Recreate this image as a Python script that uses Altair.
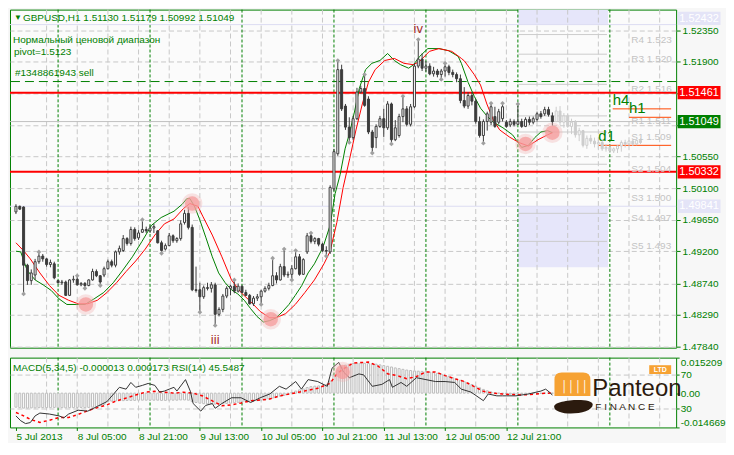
import json
import pandas as pd
import altair as alt

FONT = "Liberation Sans, Arial, sans-serif"
SANS = FONT
GREEN = "#008000"
W = 668
H_MAIN = 339
H_SUB = 70

x_domain = [-0.25, 171]
price_domain = [1.47824, 1.52646]
macd_domain = [-0.014669, 0.015209]
rsi_domain = [7.1, 90.6]

# ---------------- candles (GBPUSD H1), bars 0..140 ----------------
opens = [1.4976,1.4984,1.4983,1.4900,1.4878,1.4886,1.4905,1.4913,1.4909,1.4901,
         1.4902,1.4878,1.4875,1.4876,1.4857,1.4879,1.4880,1.4872,1.4874,1.4871,
         1.4879,1.4891,1.4885,1.4886,1.4895,1.4905,1.4900,1.4919,1.4921,1.4938,
         1.4931,1.4951,1.4939,1.4947,1.4951,1.4949,1.4953,1.4949,1.4932,1.4923,
         1.4928,1.4942,1.4935,1.4938,1.4961,1.4974,1.4954,1.4865,1.4865,1.4855,
         1.4868,1.4867,1.4872,1.4830,1.4837,1.4856,1.4867,1.4870,1.4863,1.4870,
         1.4861,1.4857,1.4845,1.4853,1.4855,1.4863,1.4867,1.4871,1.4885,1.4879,
         1.4898,1.4886,1.4887,1.4895,1.4912,1.4887,1.4919,1.4942,1.4934,1.4938,
         1.4930,1.4921,1.4919,1.5009,1.5059,1.5179,1.5127,1.5097,1.5082,1.5109,
         1.5147,1.5152,1.5137,1.5090,1.5082,1.5098,1.5109,1.5096,1.5130,1.5079,
         1.5085,1.5112,1.5123,1.5101,1.5126,1.5184,1.5194,1.5181,1.5184,1.5173,
         1.5177,1.5172,1.5177,1.5183,1.5175,1.5172,1.5166,1.5135,1.5127,1.5142,
         1.5134,1.5105,1.5085,1.5105,1.5104,1.5112,1.5104,1.5109,1.5104,1.5100,
         1.5105,1.5101,1.5105,1.5098,1.5108,1.5104,1.5108,1.5116,1.5116,1.5122,
         1.51130]
highs = [1.4987,1.4985,1.4984,1.4902,1.4894,1.4909,1.4919,1.4916,1.4910,1.4908,
         1.4905,1.4879,1.4879,1.4878,1.4880,1.4885,1.4885,1.4876,1.4876,1.4880,
         1.4895,1.4894,1.4886,1.4898,1.4908,1.4908,1.4921,1.4928,1.4943,1.4940,
         1.4955,1.4954,1.4950,1.4965,1.4955,1.4957,1.4959,1.4950,1.4935,1.4931,
         1.4946,1.4944,1.4940,1.4964,1.4979,1.4983,1.4958,1.4898,1.4875,1.4871,
         1.4875,1.4876,1.4875,1.4840,1.4859,1.4870,1.4872,1.4879,1.4874,1.4871,
         1.4865,1.4859,1.4856,1.4859,1.4865,1.4870,1.4875,1.4910,1.4890,1.4902,
         1.4923,1.4891,1.4900,1.4921,1.4916,1.4910,1.4946,1.4946,1.4940,1.4939,
         1.4932,1.4927,1.5014,1.5066,1.5192,1.5186,1.5130,1.5111,1.5113,1.5153,
         1.5156,1.5172,1.5141,1.5093,1.5101,1.5113,1.5123,1.5134,1.5132,1.5107,
         1.5116,1.5141,1.5127,1.5130,1.5188,1.5222,1.5202,1.5191,1.5188,1.5183,
         1.5180,1.5180,1.5188,1.5186,1.5179,1.5175,1.5172,1.5154,1.5147,1.5147,
         1.5137,1.5112,1.5108,1.5119,1.5131,1.5126,1.5123,1.5131,1.5107,1.5109,
         1.5108,1.5130,1.5109,1.5111,1.5112,1.5112,1.5119,1.5120,1.5126,1.5126,
         1.51179]
lows = [1.4973,1.4979,1.4859,1.4872,1.4872,1.4879,1.4902,1.4905,1.4898,1.4897,
        1.4880,1.4874,1.4872,1.4856,1.4856,1.4875,1.4871,1.4870,1.4867,1.4870,
        1.4878,1.4883,1.4871,1.4883,1.4894,1.4897,1.4897,1.4915,1.4919,1.4928,
        1.4928,1.4935,1.4936,1.4946,1.4946,1.4946,1.4946,1.4931,1.4917,1.4921,
        1.4927,1.4932,1.4932,1.4935,1.4958,1.4951,1.4863,1.4861,1.4833,1.4852,
        1.4864,1.4861,1.4814,1.4827,1.4833,1.4853,1.4857,1.4860,1.4861,1.4860,
        1.4856,1.4844,1.4842,1.4849,1.4844,1.4861,1.4864,1.4870,1.4874,1.4878,
        1.4883,1.4882,1.4879,1.4894,1.4885,1.4886,1.4916,1.4931,1.4930,1.4927,
        1.4919,1.4913,1.4916,1.5006,1.5056,1.5120,1.5093,1.5075,1.5079,1.5107,
        1.5145,1.5126,1.5087,1.5060,1.5067,1.5096,1.5083,1.5093,1.5073,1.5077,
        1.5082,1.5104,1.5098,1.5098,1.5124,1.5181,1.5177,1.5176,1.5171,1.5169,
        1.5168,1.5165,1.5169,1.5171,1.5168,1.5161,1.5131,1.5124,1.5123,1.5128,
        1.5102,1.5082,1.5074,1.5092,1.5100,1.5096,1.5101,1.5105,1.5096,1.5097,
        1.5098,1.5100,1.5096,1.5097,1.5100,1.5101,1.5105,1.5109,1.5113,1.5112,
        1.50992]
closes = [1.4984,1.4980,1.4900,1.4878,1.4889,1.4905,1.4913,1.4909,1.4901,1.4904,
          1.4882,1.4875,1.4876,1.4857,1.4879,1.4880,1.4872,1.4874,1.4871,1.4879,
          1.4891,1.4885,1.4876,1.4895,1.4905,1.4900,1.4919,1.4924,1.4938,1.4931,
          1.4951,1.4938,1.4946,1.4951,1.4949,1.4953,1.4955,1.4932,1.4921,1.4928,
          1.4942,1.4935,1.4938,1.4959,1.4974,1.4954,1.4865,1.4864,1.4855,1.4868,
          1.4867,1.4872,1.4830,1.4837,1.4856,1.4867,1.4870,1.4863,1.4870,1.4861,
          1.4857,1.4845,1.4853,1.4855,1.4863,1.4867,1.4871,1.4885,1.4879,1.4898,
          1.4886,1.4887,1.4895,1.4912,1.4887,1.4908,1.4942,1.4934,1.4938,1.4930,
          1.4921,1.4920,1.5011,1.5062,1.5179,1.5123,1.5097,1.5082,1.5109,1.5147,
          1.5152,1.5128,1.5090,1.5068,1.5098,1.5109,1.5096,1.5130,1.5079,1.5096,
          1.5112,1.5123,1.5101,1.5126,1.5184,1.5194,1.5181,1.5184,1.5173,1.5177,
          1.5172,1.5177,1.5183,1.5175,1.5172,1.5166,1.5135,1.5127,1.5142,1.5134,
          1.5105,1.5085,1.5105,1.5116,1.5126,1.5098,1.5119,1.5126,1.5098,1.5105,
          1.5101,1.5105,1.5098,1.5108,1.5104,1.5109,1.5116,1.5112,1.5122,1.5115,
          1.51049]

# faded projection candles, bars 141..163
g_open = [1.5105,1.5120,1.5104,1.5113,1.5098,1.5104,1.5086,1.5092,1.5071,1.5081,1.5077,1.5073,
          1.5075,1.5066,1.5068,1.5063,1.5066,1.5070,1.5075,1.5073,1.5077,1.5073,1.5078]
g_high = [1.5126,1.5127,1.5117,1.5116,1.5109,1.5107,1.5096,1.5093,1.5085,1.5086,1.5082,1.5079,
          1.5079,1.5073,1.5071,1.5068,1.5071,1.5078,1.5079,1.5078,1.5079,1.5079,1.5081]
g_low = [1.5104,1.5100,1.5096,1.5096,1.5087,1.5082,1.5077,1.5068,1.5066,1.5073,1.5068,1.5066,
         1.5063,1.5062,1.5060,1.5060,1.5060,1.5062,1.5068,1.5070,1.5070,1.5071,1.5073]
g_close = [1.5120,1.5104,1.5113,1.5098,1.5104,1.5086,1.5092,1.5071,1.5081,1.5077,1.5073,1.5075,
           1.5066,1.5068,1.5063,1.5066,1.5070,1.5075,1.5073,1.5077,1.5073,1.5078,1.5075]

# moving averages
fast_bars = [0,1.25,2.9,5,7.1,9.2,11.25,13.3,16.25,18,20.4,22.9,25.4,27.9,30.4,32.9,35.4,37.9,41.25,43.4,
             44.6,45.4,46.6,47.9,49.6,51.25,52.9,54.6,56.25,57.9,59.6,61.25,62.9,64.6,66.25,67.9,69.6,71.25,72.9,74.6,
             76.25,77.9,79.6,80.4,82,83.3,84.6,85.9,87.1,88.4,89.6,91.25,92.9,95,97,98.75,100.4,102.5,103.75,105.4,
             107.5,110.4,112.9,115.4,116.25,118,119.6,121.25,122.9,124.6,127.1,129.6,132,133.75,135.4,137,138.75,140]
fast_vals = [1.4920,1.4919,1.4893,1.4879,1.4872,1.4864,1.4852,1.4844,1.4844,1.4844,1.4852,1.4861,1.4875,1.4893,1.4912,
             1.4934,1.4957,1.4968,1.4977,1.4987,1.4995,1.4995,1.4984,1.4966,1.4939,1.4912,1.4889,1.4875,1.4865,1.4859,
             1.4850,1.4838,1.4827,1.4819,1.4821,1.4825,1.4834,1.4844,1.4857,1.4871,1.4889,1.4902,1.4920,1.4930,1.4957,
             1.5002,1.5029,1.5066,1.5089,1.5120,1.5152,1.5179,1.5188,1.5192,1.5202,1.5192,1.5186,1.5181,1.5186,1.5198,
             1.5209,1.5209,1.5206,1.5198,1.5188,1.5161,1.5141,1.5124,1.5113,1.5104,1.5096,1.5086,1.5068,1.5071,1.5082,
             1.5090,1.5092,1.5089]
slow_bars = [0,2.1,3.75,6.25,8.75,11.25,13.75,16.25,18.75,21.25,23.75,26.25,28.75,31.25,33.75,36.25,38.75,41.25,43.75,45.4,
             47.5,48.75,51.25,53.75,56.25,58.75,61.25,63.75,66.25,67.9,70.4,72.9,75.4,77.9,80.4,82,83.75,85.4,87.1,88.75,
             90.4,92,93.75,96.25,98.75,101.25,103.75,105.4,107.9,110.4,113.75,116.25,117.1,119.6,121.25,122.9,124.6,126.25,
             128.75,131.25,133.75,136.25,138.75,140]
slow_vals = [1.4932,1.4920,1.4909,1.4889,1.4871,1.4857,1.4850,1.4845,1.4845,1.4850,1.4861,1.4875,1.4891,1.4906,1.4923,
             1.4943,1.4959,1.4966,1.4981,1.4988,1.4984,1.4970,1.4943,1.4912,1.4879,1.4861,1.4848,1.4834,1.4825,1.4825,
             1.4831,1.4844,1.4861,1.4879,1.4902,1.4920,1.4961,1.5011,1.5052,1.5093,1.5130,1.5161,1.5179,1.5192,1.5195,
             1.5188,1.5186,1.5191,1.5205,1.5209,1.5205,1.5195,1.5191,1.5172,1.5157,1.5130,1.5107,1.5093,1.5083,1.5075,
             1.5070,1.5079,1.5086,1.5089]

fractal_up = [6,16,33,57,67,70,73,77,84,91,101,105,112,124,127,131]
fractal_dn = [2,18,22,38,48,52,64,72,81,87,93,98,111,122]

circle_bars = [18.25, 46, 66.5, 133, 140]
circle_prices = [1.4844, 1.4988, 1.4823, 1.5073, 1.5089]

# levels
red_levels = [1.51461, 1.50332]
order_level = [1.5162]
bid_level = [1.51049]
lav_levels = [1.52432, 1.49841]
zone_b0 = [131, 131]
zone_b1 = [154.5, 154.5]
zone_lo = [1.52432, 1.4897]
zone_hi = [1.52646, 1.49841]
pivot_names = ["R4", "R3", "R2", "R1", "S1", "S2", "S3", "S4", "S5"]
pivot_prices = [1.5229, 1.5201, 1.5158, 1.5113, 1.5090, 1.5044, 1.5003, 1.4974, 1.4934]
tf_names = ["h4", "h1", "d1"]
tf_start = [155.75, 160, 152]
tf_prices = [1.5123, 1.5111, 1.5071]
box_prices = [1.49841, 1.51461, 1.50332, 1.51049]
box_fills = ["#e4e4f7", "#ff0000", "#ff0000", "#008000"]
top_box_price = [1.52432]
top_box_fill = ["#e4e4f7"]

price_ticks = [1.5235, 1.519, 1.5145, 1.51, 1.5055, 1.501, 1.4965, 1.492, 1.4874, 1.4829, 1.4784]
hidden_ticks = [1.5145, 1.51]

grid_bars = [8, 16, 24, 32, 40, 48, 56, 64, 72, 80, 88, 96, 104, 112, 120, 128, 136, 144, 152, 160, 168]
day_bars = [11, 35, 59, 83, 107, 131, 155]
x_label_bars = [0, 16, 32, 48, 64, 80, 96, 112, 128]
x_label_text = ["5 Jul 2013", "8 Jul 05:00", "8 Jul 21:00", "9 Jul 13:00", "10 Jul 05:00",
                "10 Jul 21:00", "11 Jul 13:00", "12 Jul 05:00", "12 Jul 21:00"]

# indicator window
macd_hist = [-0.0060,-0.0062,-0.0064,-0.0064,-0.0063,-0.0063,-0.0062,-0.0062,-0.0062,-0.0062,-0.0061,-0.0062,
             -0.0062,-0.0063,-0.0062,-0.0062,-0.0061,-0.0061,-0.0062,-0.0061,-0.0060,-0.0058,-0.0054,-0.0048,
             -0.0036,-0.0034,-0.0033,-0.0032,-0.0032,-0.0031,-0.0031,-0.0031,-0.0030,-0.0030,-0.0030,-0.0030,
             -0.0030,-0.0030,-0.0031,-0.0031,-0.0030,-0.0030,-0.0030,-0.0029,-0.0029,-0.0030,
             -0.0036,-0.0040,-0.0043,-0.0045,-0.0046,-0.0046,-0.0047,-0.0046,-0.0045,-0.0044,-0.0043,-0.0041,-0.0039,
             -0.0037,-0.0035,-0.0034,-0.0033,-0.0032,-0.0030,-0.0028,-0.0025,-0.0021,-0.0017,-0.0013,-0.0009,
             -0.0005,0.0003,0.0009,0.0014,0.0018,0.0024,0.0028,0.0030,0.0031,0.0032,
             0.0036,0.0052,0.0074,0.0098,0.0112,0.0120,0.0124,0.0127,0.0128,0.0129,0.0128,0.0127,
             0.0126,0.0124,0.0121,0.0118,0.0115,0.0112,0.0108,0.0105,0.0102,0.0099,0.0097,0.0095,0.0094,0.0093,
             0.0092,0.0090,0.0088,0.0085,0.0081,0.0076,
             0.0071,0.0066,0.0061,0.0055,0.0049,0.0043,0.0037,0.0030,0.0023,0.0016,0.0010,
             0.0005,0.0002,0.0000,-0.0002,-0.0003,-0.0004,-0.0004,-0.0004,-0.0003,-0.0003,-0.0002,-0.0002,
             -0.0001,-0.0001,0.0000,0.0000,-0.000013]
signal_bars = [0,1.25,3.75,6.25,8.75,11.25,13.75,16.25,18.75,21.25,23.75,26.25,28.75,31.25,33.75,36.25,38.75,41.25,
               43.75,46.25,48.75,51.25,53.75,56.25,58.75,61.25,63.75,66.25,68.75,73.75,78.75,82,83.75,85.5,88,92,
               94.5,97,99.5,102,104.5,107,109.5,112,114.5,117,119.5,122,124.5,127,132,135.5,138.75,140]
signal_vals = [-0.0083,-0.0091,-0.0112,-0.0125,-0.0116,-0.0104,-0.0104,-0.0091,-0.0075,-0.0062,-0.0050,-0.0033,
               -0.0021,-0.0008,0.0004,0.0008,0.0004,0.0000,0.0004,0.0000,-0.0012,-0.0033,-0.0054,-0.0050,-0.0042,
               -0.0033,-0.0029,-0.0025,-0.0012,0.0004,0.0021,0.0042,0.0083,0.0104,0.0129,0.0133,0.0116,0.0083,
               0.0075,0.0062,0.0071,0.0091,0.0091,0.0075,0.0062,0.0050,0.0029,0.0008,0.0000,-0.0004,-0.0008,
               -0.0004,0.0000,0.000173]
rsi_bars = [0,1.25,2.5,3.75,5,6.25,8.75,11.25,12.5,13.75,16.25,18.75,21.25,23.75,25.5,27,28.75,30,31.25,33,
            34.5,36.25,37.5,38.75,40,41.25,42,44.25,45.5,46.25,48.25,49.5,51.25,52,53.75,56.25,58.75,61.25,63.75,
            66.25,68.75,70.5,73,74.5,76.25,78.75,81.25,82.5,84.25,85.5,87,89.5,90.75,93,95.5,97.5,98.25,100.5,102,
            104.5,107,109.5,112,114.5,116.25,118.75,122,123.25,125.5,127,130.5,133.75,137,138.25,139.5,140]
rsi_vals = [20.9,15.1,11.7,12.9,20.9,24.3,23.1,20.9,18.6,23.1,27.7,26.6,32.3,38.0,47.1,55.1,52.9,60.9,55.1,57.4,
            59.7,57.4,49.4,50.6,52.9,55.1,50.6,64.3,50.6,35.7,26.6,33.4,35.7,30.0,35.7,42.6,42.6,36.9,42.6,47.1,
            56.3,52.9,62.0,52.9,64.3,62.0,56.3,78.0,84.9,73.4,66.6,71.1,70.0,56.3,58.6,64.3,55.1,60.9,56.3,66.6,
            64.3,62.0,62.0,60.9,52.9,49.4,39.1,47.1,44.9,44.9,44.9,47.1,50.6,52.9,48.3,45.5487]
rsi_circle_bar = [85.25]
rsi_circle_val = [73.4]

# ---------------- tables ----------------
rows = []
for i, (o, h, l, c) in enumerate(zip(opens, highs, lows, closes)):
    rows.append(dict(bar=i, open=o, high=h, low=l, close=c, kind="bull" if c >= o else "bear"))
for j, (o, h, l, c) in enumerate(zip(g_open, g_high, g_low, g_close)):
    rows.append(dict(bar=len(opens) + j, open=o, high=h, low=l, close=c, kind="gbull" if c >= o else "gbear"))
candles = pd.DataFrame(rows)

frac = pd.DataFrame(
    [dict(bar=b, price=highs[b]) for b in fractal_up] + [dict(bar=b, price=lows[b]) for b in fractal_dn])

xs = alt.Scale(domain=x_domain, nice=False, zero=False)
ys = alt.Scale(domain=price_domain, nice=False, zero=False)
ms = alt.Scale(domain=macd_domain, nice=False, zero=False)
rs = alt.Scale(domain=rsi_domain, nice=False, zero=False)

hidden_js = json.dumps(hidden_ticks)
yaxis = alt.Axis(orient="right", values=price_ticks, title=None, domain=False,
                 labelExpr=f"indexof({hidden_js}, datum.value) >= 0 ? '' : format(datum.value, '.5f')",
                 grid=True, gridColor="#c8c8c8", gridDash=[5, 3], tickSize=4, labelPadding=2, labelFontSize=10)


def X(f="bar"):
    return alt.X(f"{f}:Q", scale=xs, axis=None)


def Y(f):
    return alt.Y(f"{f}:Q", scale=ys, axis=yaxis)


def note(text, x, y, **kw):
    kw.setdefault("font", FONT)
    kw.setdefault("fontSize", 10)
    kw.setdefault("color", GREEN)
    kw.setdefault("align", "left")
    kw.setdefault("baseline", "middle")
    return alt.Chart(pd.DataFrame({"t": [text]})).mark_text(**kw).encode(
        text="t:N", x=alt.value(x), y=alt.value(y))


zones = alt.Chart(pd.DataFrame({"b0": zone_b0, "b1": zone_b1, "p0": zone_lo, "p1": zone_hi})).mark_rect(
    color="#e6e6fa", clip=True).encode(x=X("b0"), x2="b1:Q", y=Y("p0"), y2="p1:Q")
vgrid = alt.Chart(pd.DataFrame({"bar": grid_bars})).mark_rule(
    color="#c8c8c8", strokeDash=[5, 3], strokeWidth=1).encode(x=X())
days = alt.Chart(pd.DataFrame({"bar": day_bars})).mark_rule(
    color=GREEN, strokeDash=[3, 2], strokeWidth=1).encode(x=X())
lav_lines = alt.Chart(pd.DataFrame({"p": lav_levels})).mark_rule(color="#dcdcf2", strokeWidth=1).encode(y=Y("p"))
bid_line = alt.Chart(pd.DataFrame({"p": bid_level})).mark_rule(color="#c0c0c0", strokeWidth=1).encode(y=Y("p"))
order_line = alt.Chart(pd.DataFrame({"p": order_level})).mark_rule(
    color=GREEN, strokeDash=[9, 5], strokeWidth=1).encode(y=Y("p"))
red_lines = alt.Chart(pd.DataFrame({"p": red_levels})).mark_rule(color="#ff0000", strokeWidth=2).encode(y=Y("p"))

piv_df = pd.DataFrame({"name": pivot_names, "p": pivot_prices})
piv_df["label"] = [f"{n} {p:.3f}" for n, p in zip(pivot_names, pivot_prices)]
piv_df["b0"] = 131
piv_df["b1"] = 154.25
piv_df["bl"] = 160.6
piv_lines = alt.Chart(piv_df).mark_rule(color="#cccccc", strokeWidth=1).encode(x=X("b0"), x2="b1:Q", y=Y("p"))
piv_text = alt.Chart(piv_df).mark_text(color="#c4c4c4", font=FONT, fontSize=10, align="left",
                                       baseline="middle", dy=5).encode(
    x=X("bl"), y=Y("p"), text="label:N")

tf_df = pd.DataFrame({"name": tf_names, "b0": tf_start, "p": tf_prices})
tf_df["b1"] = x_domain[1]
tf_lines = alt.Chart(tf_df).mark_rule(color="#ff4500", strokeWidth=1).encode(x=X("b0"), x2="b1:Q", y=Y("p"))
tf_text = alt.Chart(tf_df).mark_text(color=GREEN, font=SANS, fontSize=15,
                                     align="left", baseline="bottom", dy=-1).encode(
    x=X("b0"), y=Y("p"), text="name:N")

fast = alt.Chart(pd.DataFrame({"bar": fast_bars, "v": fast_vals})).mark_line(
    color=GREEN, strokeWidth=1).encode(x=X(), y=Y("v"))
slow = alt.Chart(pd.DataFrame({"bar": slow_bars, "v": slow_vals})).mark_line(
    color="#ff0000", strokeWidth=1).encode(x=X(), y=Y("v"))

kinds = ["bull", "bear", "gbull", "gbear"]
wicks = alt.Chart(candles).mark_rule(strokeWidth=1).encode(
    x=X(), y=Y("low"), y2="high:Q",
    color=alt.Color("kind:N", scale=alt.Scale(domain=kinds, range=["#3c3c3c", "#3c3c3c", "#cdcdcd", "#cdcdcd"]),
                    legend=None))
bodies = alt.Chart(candles).mark_bar(width=2, strokeWidth=1).encode(
    x=X(), y=Y("open"), y2="close:Q",
    fill=alt.Fill("kind:N", scale=alt.Scale(domain=kinds, range=["#ffffff", "#3c3c3c", "#ffffff", "#cdcdcd"]),
                  legend=None),
    stroke=alt.Stroke("kind:N", scale=alt.Scale(domain=kinds, range=["#3c3c3c", "#3c3c3c", "#cdcdcd", "#cdcdcd"]),
                      legend=None))

fractals = alt.Chart(frac).mark_point(shape="diamond", filled=True, color="#a0a0a0", size=22, opacity=1).encode(
    x=X(), y=Y("price"))

circ_df = pd.DataFrame({"bar": circle_bars, "p": circle_prices})
halo = alt.Chart(circ_df).mark_circle(color="#f2b3b3", size=420, opacity=0.35).encode(x=X(), y=Y("p"))
core = alt.Chart(circ_df).mark_circle(color="#f59a9a", size=210, opacity=0.75).encode(x=X(), y=Y("p"))

roman = alt.Chart(pd.DataFrame({"bar": [52, 105], "p": [1.4793, 1.5237], "t": ["iii", "iv"]})).mark_text(
    color="#a52a2a", font=SANS, fontSize=13, baseline="middle").encode(
    x=X(), y=Y("p"), text="t:N")

BOX_X = W + 23
box_df = pd.DataFrame({"p": box_prices, "fill": box_fills})
box_df["label"] = [f"{p:.5f}" for p in box_prices]
BOX = "M-1,-0.31L1,-0.31L1,0.31L-1,0.31Z"
boxes = alt.Chart(box_df).mark_point(shape=BOX, filled=True, size=1849, opacity=1, strokeWidth=0).encode(
    x=alt.value(BOX_X), y=Y("p"), color=alt.Color("fill:N", scale=None))
box_text = alt.Chart(box_df).mark_text(color="#ffffff", font=FONT, fontSize=11, align="center",
                                       baseline="middle").encode(
    x=alt.value(BOX_X), y=Y("p"), text="label:N")
top_df = pd.DataFrame({"p": top_box_price, "fill": top_box_fill})
top_df["label"] = [f"{p:.5f}" for p in top_box_price]
BOX_UP = "M-1,-0.6L1,-0.6L1,0.02L-1,0.02Z"
top_box = alt.Chart(top_df).mark_point(shape=BOX_UP, filled=True, size=1849, opacity=1, strokeWidth=0).encode(
    x=alt.value(BOX_X), y=Y("p"), color=alt.Color("fill:N", scale=None))
top_text = alt.Chart(top_df).mark_text(color="#ffffff", font=FONT, fontSize=11, align="center",
                                       baseline="middle", dy=-6).encode(
    x=alt.value(BOX_X), y=Y("p"), text="label:N")

main = alt.layer(
    zones, vgrid, days, lav_lines, bid_line, order_line, red_lines, piv_lines, piv_text, tf_lines, tf_text,
    fast, slow, wicks, bodies, fractals, halo, core, roman,
    note("\u25bc", 4, 8, fontSize=8),
    note("GBPUSD,H1  1.51130 1.51179 1.50992 1.51049", 13, 8),
    note("Нормальный ценовой диапазон", 3, 30),
    note(" pivot=1.5123", 4, 43),
    note("#1348861943 sell", 5, 64),
    top_box, top_text, boxes, box_text,
).properties(width=W, height=H_MAIN)

# ---------------- indicator panel ----------------
label_js = json.dumps(x_label_text)
xaxis = alt.Axis(values=x_label_bars, labelExpr=f"{label_js}[round(datum.value / 16)]", labelAlign="left",
                 title=None, domain=False, grid=False, tickSize=3, labelPadding=1, labelFontSize=10,
                 labelFlush=False)
MX = alt.X("bar:Q", scale=xs, axis=xaxis)
macd_axis = alt.Axis(orient="right", values=[macd_domain[1], 0, macd_domain[0]], title=None, domain=False,
                     grid=False, tickSize=3, labelPadding=1, labelFlush=True, labelFontSize=10,
                     labelExpr="datum.value == 0 ? '0.00' : (datum.value < 0 ? '-' + format(-datum.value, '.6f') : format(datum.value, '.6f'))")
rsi_axis = alt.Axis(orient="right", values=[70, 30], title=None, domain=False, grid=True, gridColor="#c8c8c8",
                    gridDash=[5, 3], tickSize=3, labelPadding=1, format="d", labelFontSize=10)

s_vgrid = alt.Chart(pd.DataFrame({"bar": grid_bars})).mark_rule(
    color="#c8c8c8", strokeDash=[5, 3], strokeWidth=1).encode(x=MX)
s_days = alt.Chart(pd.DataFrame({"bar": day_bars})).mark_rule(
    color=GREEN, strokeDash=[3, 2], strokeWidth=1).encode(x=MX)
hist = alt.Chart(pd.DataFrame({"bar": list(range(len(macd_hist))), "v": macd_hist})).mark_bar(
    width=2, fill="#ffffff", stroke="#bdbdbd", strokeWidth=1).encode(
    x=MX, y=alt.Y("v:Q", scale=ms, axis=macd_axis))
signal = alt.Chart(pd.DataFrame({"bar": signal_bars, "v": signal_vals})).mark_line(
    color="#ff0000", strokeDash=[3, 3], strokeWidth=1.5).encode(
    x=MX, y=alt.Y("v:Q", scale=ms, axis=None))
rsi = alt.Chart(pd.DataFrame({"bar": rsi_bars, "v": rsi_vals})).mark_line(
    color="#333333", strokeWidth=1).encode(x=MX, y=alt.Y("v:Q", scale=rs, axis=rsi_axis))
rc_df = pd.DataFrame({"bar": rsi_circle_bar, "v": rsi_circle_val})
r_halo = alt.Chart(rc_df).mark_circle(color="#f2b3b3", size=420, opacity=0.35).encode(
    x=MX, y=alt.Y("v:Q", scale=rs, axis=None))
r_core = alt.Chart(rc_df).mark_circle(color="#f59a9a", size=210, opacity=0.75).encode(
    x=MX, y=alt.Y("v:Q", scale=rs, axis=None))

ICON_TOP = "M-1,0.3L-1,-0.6Q-1,-1,-0.6,-1L0.6,-1Q1,-1,1,-0.6L1,0.3Z"
ICON_BOT = "M-1,0C-1,-0.35,1,-0.5,1,-0.1C1,0.45,-1,0.55,-1,0Z"


def shape(path, x, y, size, color):
    return alt.Chart(pd.DataFrame({"k": [0]})).mark_point(
        shape=path, filled=True, size=size, color=color, opacity=1, strokeWidth=0).encode(
        x=alt.value(x), y=alt.value(y))


sub = alt.layer(
    s_vgrid, s_days, hist, signal, rsi, r_halo, r_core,
    note("MACD(5,34,5) -0.000013 0.000173  RSI(14) 45.5487", 3, 10),
    shape(ICON_TOP, 564, 33, 1296, "#f6a233"),
    note("\u2502\u2502\u2502\u2502", 553, 29, fontSize=11, color="#ffffff", fontWeight="bold"),
    shape(ICON_BOT, 565, 49, 1500, "#2b1a0e"),
    note("Panteon", 584, 31, fontSize=24, color="#2b1a0e"),
    note("F  I  N  A  N  C  E", 587, 50, fontSize=10, color="#2b1a0e"),
    shape("M-1,-0.4L1,-0.4L1,0.4L-1,0.4Z", 652, 12, 484, "#f6a233"),
    note("LTD", 652, 12, fontSize=7, color="#ffffff", align="center", fontWeight="bold"),
).resolve_scale(y="independent").properties(width=W, height=H_SUB)

chart = alt.vconcat(main, sub, spacing=4).properties(
    padding=0, background="#f7f7f7"
).configure_view(stroke=GREEN, strokeWidth=1, fill="#fbfbfb").configure_axis(
    labelFont=FONT, labelFontSize=10, labelColor=GREEN, tickColor=GREEN, titleFont=FONT
).configure_text(font=FONT)

chart.save("out.html", embed_options={"renderer": "svg", "actions": False})
